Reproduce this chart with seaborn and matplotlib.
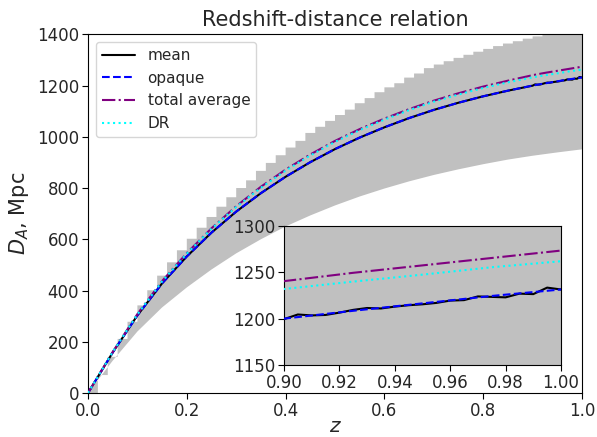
import numpy as np
import pandas as pd
import matplotlib
matplotlib.use("Agg")
import matplotlib.pyplot as plt
import seaborn as sns

# ---- data ----
z_smooth = [0.0, 0.05, 0.10, 0.15, 0.20, 0.25, 0.30, 0.35, 0.40, 0.45, 0.50,
            0.55, 0.60, 0.65, 0.70, 0.75, 0.80, 0.85, 0.90, 0.925, 0.95, 0.975, 1.0]
opaque = [0, 158, 303, 428, 533, 626, 708, 780, 844, 901, 952,
          997, 1037, 1073, 1105, 1133, 1158, 1180, 1200, 1208.5, 1216.5, 1224.5, 1231.5]
total_avg = [0, 160, 308, 437, 546, 643, 729, 805, 872, 931, 984,
             1030, 1071, 1108, 1141, 1170, 1196, 1219, 1240.5, 1249.5, 1257.5, 1265.5, 1273.5]
dr = [0, 160, 307, 436, 544, 641, 726, 801, 868, 927, 980,
      1026, 1067, 1104, 1137, 1165, 1190.5, 1212.5, 1232, 1240, 1247.5, 1255.5, 1262]

# mean: coarse part + noisy fine part near z = 1
z_mean = [0.0, 0.05, 0.10, 0.15, 0.20, 0.25, 0.30, 0.35, 0.40, 0.45, 0.50,
          0.55, 0.60, 0.65, 0.70, 0.75, 0.80, 0.85,
          0.900, 0.905, 0.910, 0.915, 0.920, 0.925, 0.930, 0.935, 0.940, 0.945,
          0.950, 0.955, 0.960, 0.965, 0.970, 0.975, 0.980, 0.985, 0.990, 0.995, 1.000]
mean = [0, 158, 303, 428, 533, 626, 708, 780, 844, 901, 952,
        997, 1037, 1073, 1105, 1133, 1158, 1180,
        1199.5, 1204.5, 1203.5, 1204.0, 1206.5, 1209.5, 1211.5, 1211.0, 1213.0, 1214.5,
        1215.5, 1217.0, 1219.5, 1220.0, 1224.0, 1223.5, 1223.0, 1227.0, 1226.5, 1233.5, 1231.5]

# spread band: smooth lower edge, stepped upper edge
z_low = [0.0, 0.05, 0.10, 0.15, 0.20, 0.25, 0.30, 0.35, 0.40, 0.45, 0.50,
         0.55, 0.60, 0.65, 0.70, 0.75, 0.80, 0.85, 0.90, 0.95, 1.0]
band_low = [0, 126, 240, 334, 412, 482, 545, 600, 650, 693, 732,
            767, 798, 826, 851, 873, 893, 911, 926, 939, 951]
z_up = [0.00, 0.02, 0.04, 0.06, 0.08, 0.10, 0.12, 0.14, 0.16, 0.18, 0.20,
        0.22, 0.24, 0.26, 0.28, 0.30, 0.32, 0.34, 0.36, 0.38, 0.40,
        0.42, 0.44, 0.46, 0.48, 0.50, 0.52, 0.54, 0.56, 0.58, 0.60,
        0.62, 0.64, 0.66, 0.68, 0.70, 0.72, 0.74, 0.76, 0.78, 0.80,
        0.82, 0.84, 0.86, 0.88, 0.90, 0.92, 0.94, 0.96, 0.98, 1.00]
band_up = [0, 70, 141, 211, 278, 342, 401, 458, 510, 557, 602,
           645, 687, 727, 764, 800, 830, 867, 898, 928, 958,
           984, 1015, 1039, 1062, 1085, 1106, 1131, 1151, 1174, 1193,
           1209, 1231, 1247, 1268, 1282, 1295, 1308, 1320, 1332, 1343,
           1354, 1364, 1373, 1383, 1392, 1400, 1408, 1415, 1422, 1429]

series = [
    ("mean", z_mean, mean, "black", "-"),
    ("opaque", z_smooth, opaque, "blue", "--"),
    ("total average", z_smooth, total_avg, "purple", "-."),
    ("DR", z_smooth, dr, "cyan", ":"),
]

sns.set_style("ticks")
plt.rcParams["font.family"] = ["DejaVu Sans"]
plt.rcParams["mathtext.fontset"] = "dejavusans"
plt.rcParams["axes.edgecolor"] = "black"


def band_polygon():
    xs, ys = [], []
    for i in range(len(z_up) - 1):
        xs += [z_up[i], z_up[i + 1]]
        ys += [band_up[i], band_up[i]]
    xs.append(z_up[-1])
    ys.append(band_up[-1])
    xs += z_low[::-1]
    ys += band_low[::-1]
    return xs, ys


def draw(ax, legend):
    bx, by = band_polygon()
    ax.fill(bx, by, color="silver", lw=0, zorder=1)
    for name, zz, vals, col, ls in series:
        df = pd.DataFrame({"z": zz, "D": vals})
        sns.lineplot(data=df, x="z", y="D", ax=ax, color=col, linestyle=ls,
                     linewidth=1.5, label=name if legend else None, zorder=3)


fig = plt.figure(figsize=(5.97, 4.37), dpi=100)
ax = fig.add_axes([0.1474, 0.1007, 0.8275, 0.8208])
draw(ax, True)
ax.set_xlim(0, 1.0)
ax.set_ylim(0, 1400)
ax.set_xticks(np.arange(0, 1.01, 0.2))
ax.set_yticks(np.arange(0, 1401, 200))
ax.set_title("Redshift-distance relation", fontsize=15)
ax.set_xlabel("$z$", fontsize=14.5, labelpad=-2)
ax.set_ylabel("$D_A$, Mpc", fontsize=15)
ax.tick_params(labelsize=12, direction="out", length=4, pad=2.5, color="black")
ax.legend(loc="upper left", fontsize=11, frameon=True, handlelength=2.2)

axin = fig.add_axes([0.4757, 0.1648, 0.464, 0.318])
draw(axin, False)
axin.set_xlim(0.9, 1.0)
axin.set_ylim(1150, 1300)
axin.set_xticks(np.arange(0.9, 1.001, 0.02))
axin.set_xticklabels([f"{v:.2f}" for v in np.arange(0.9, 1.001, 0.02)])
axin.set_yticks([1150, 1200, 1250, 1300])
axin.set_xlabel("")
axin.set_ylabel("")
axin.tick_params(labelsize=12, direction="out", length=4, pad=2.5, color="black")
if axin.get_legend() is not None:
    axin.get_legend().remove()

fig.savefig("out.png", dpi=100)
